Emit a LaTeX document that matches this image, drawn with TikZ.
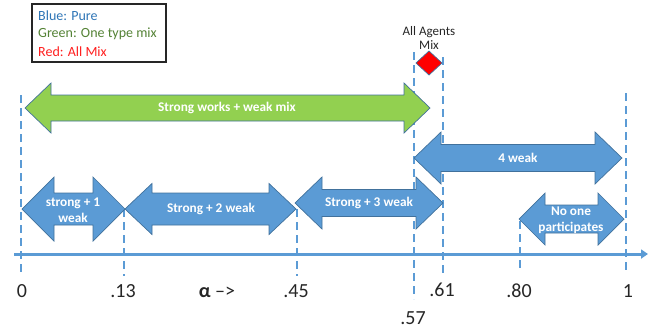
\documentclass[tikz,border=0pt]{standalone}
\usepackage{fontspec}
\setmainfont{Carlito}
\usetikzlibrary{arrows.meta}
\definecolor{arrblue}{HTML}{5B9BD5}
\definecolor{arredge}{HTML}{41719C}
\definecolor{arrgreen}{HTML}{92D050}
\definecolor{legblue}{HTML}{2E75B6}
\definecolor{leggreen}{HTML}{548235}
\definecolor{legred}{HTML}{FF1F1F}
\definecolor{labgray}{HTML}{262626}
\newcommand{\dblarrow}[7]{%
\draw[#1] (#2,#4) -- ({#2+#7},{#4-#5}) -- ({#2+#7},{#4-#6}) -- ({#3-#7},{#4-#6}) -- ({#3-#7},{#4-#5}) -- (#3,#4) -- ({#3-#7},{#4+#5}) -- ({#3-#7},{#4+#6}) -- ({#2+#7},{#4+#6}) -- ({#2+#7},{#4+#5}) -- cycle;}
\tikzset{
  bluearrow/.style={fill=arrblue, draw=arredge, line width=0.7pt, line join=miter},
  greenarrow/.style={fill=arrgreen, draw=arredge, line width=0.7pt, line join=miter},
  guide/.style={draw=arrblue, line width=2.4pt, dash pattern=on 8pt off 5pt},
  arrtext/.style={text=white, font=\fontsize{13.3}{16}\selectfont\bfseries, align=center, inner sep=0pt},
  ticklab/.style={text=labgray, font=\fontsize{20}{22}\selectfont, inner sep=0pt},
  legtext/.style={font=\fontsize{14}{16}\selectfont, anchor=west, inner sep=0pt}
}
\begin{document}
\begin{tikzpicture}[x=1pt,y=-1pt]
\useasboundingbox (0,0) rectangle (651,333);
% guide lines
\coordinate (g0t) at (21,95);   \coordinate (g0b) at (21,276);
\coordinate (g1t) at (124,209); \coordinate (g1b) at (124,276);
\coordinate (g2t) at (297,209); \coordinate (g2b) at (297,276);
\coordinate (g3t) at (414,52);  \coordinate (g3b) at (414,299);
\coordinate (g4t) at (443,57);  \coordinate (g4b) at (443,276);
\coordinate (g5t) at (520,221); \coordinate (g5b) at (520,268);
\coordinate (g6t) at (626,93);  \coordinate (g6b) at (626,273);
\foreach \i in {0,...,6} \draw[guide] (g\i t) -- (g\i b);
% axis
\coordinate (axl) at (14,254);
\coordinate (axr) at (648,254);
\draw[arrblue, line width=3pt, -{Triangle[length=7pt,width=9pt]}] (axl) -- (axr);
% arrows
\dblarrow{greenarrow}{25}{430}{108}{25}{13}{26}
\dblarrow{bluearrow}{22}{125}{209}{32}{16}{32}
\dblarrow{bluearrow}{125}{296}{209}{25.5}{16}{27}
\dblarrow{bluearrow}{295}{443}{203}{26}{13.5}{27}
\dblarrow{bluearrow}{414}{622}{158}{26}{13.5}{27}
\dblarrow{bluearrow}{519}{624}{219}{26}{14}{26}
\node[arrtext] (tg) at (227,108) {Strong works + weak mix};
\node[arrtext] (t1) at (73,210) {strong + 1\\weak};
\node[arrtext] (t2) at (211,209) {Strong + 2 weak};
\node[arrtext] (t3) at (369,203) {Strong + 3 weak};
\node[arrtext] (t4) at (518,158) {4 weak};
\node[arrtext] (t5) at (571,220) {No one\\participates};
% diamond
\draw[fill=red, draw=arredge, line width=0.7pt] (429,51) -- (442,63) -- (429,75) -- (416,63) -- cycle;
\node[text=labgray, font=\fontsize{13}{14.5}\selectfont, align=center, inner sep=0pt] (mix) at (429,38) {All Agents\\Mix};
% legend
\node[draw=black!85, line width=1.2pt, minimum width=134pt, minimum height=58pt, inner sep=0pt] (leg) at (99,33) {};
\node[legtext, text=legblue] (l1) at (38,16) {Blue: Pure};
\node[legtext, text=leggreen] (l2) at (38,34) {Green: One type mix};
\node[legtext, text=legred] (l3) at (38,52) {Red: All Mix};
% tick labels
\node[ticklab] (n0) at (22,291) {0};
\node[ticklab] (n13) at (123,291) {.13};
\node[ticklab] (n45) at (296,291) {.45};
\node[ticklab] (n61) at (442,290) {.61};
\node[ticklab] (n80) at (519,291) {.80};
\node[ticklab] (n1) at (628,291) {1};
\node[ticklab] (n57) at (413,318) {.57};
\node[ticklab] (alpha) at (217,292) {\textbf{α} –>};
\end{tikzpicture}
\end{document}
